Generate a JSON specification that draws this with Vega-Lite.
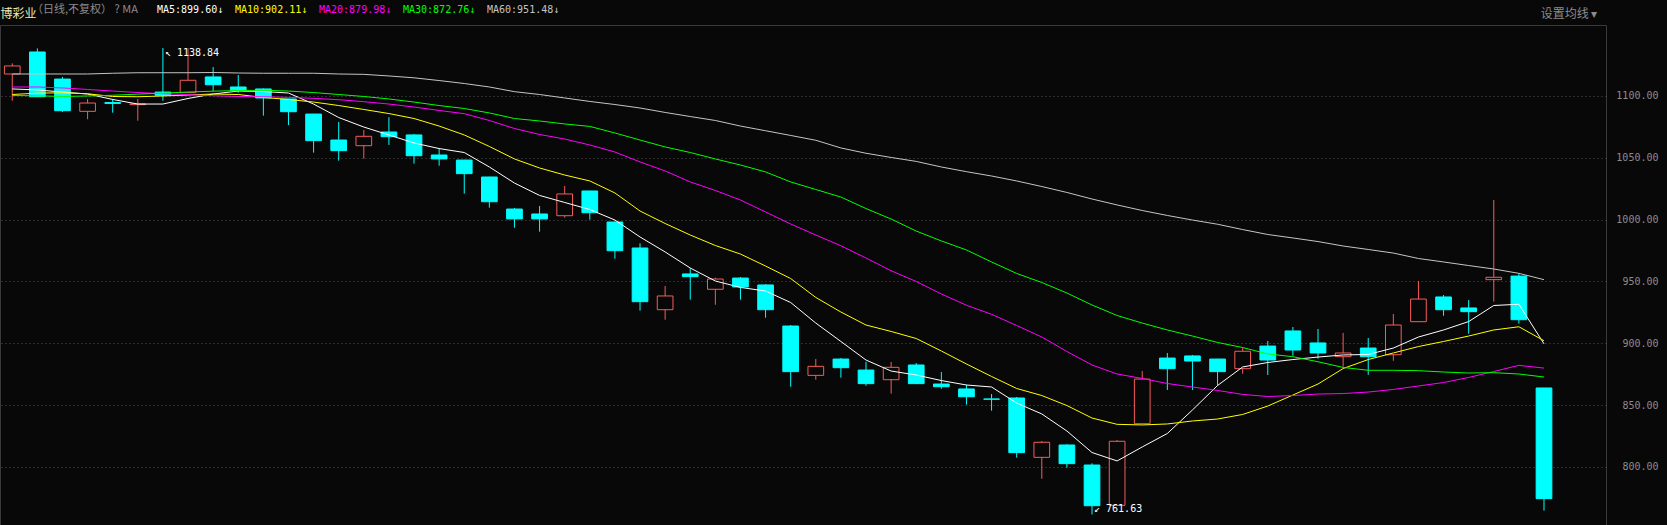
{
  "$schema": "https://vega.github.io/schema/vega-lite/v6.json",
  "width": 1606,
  "height": 500,
  "autosize": {"type": "none"},
  "padding": {"left": 0, "top": 25, "right": 61, "bottom": 0},
  "background": "#080808",
  "config": {
    "view": {"stroke": "#3a3a3a", "strokeWidth": 1},
    "axisY": {
      "labelColor": "#8c8c8c",
      "labelFont": "DejaVu Sans Mono",
      "labelFontSize": 10,
      "labelAlign": "right",
      "labelBaseline": "middle",
      "labelPadding": 52,
      "labelOverlap": false,
      "labelFlush": false,
      "ticks": false,
      "domain": false,
      "grid": true,
      "gridColor": "#505050",
      "gridDash": [1, 3],
      "gridWidth": 1,
      "titleAngle": 0,
      "titleX": -1606,
      "titleY": -12,
      "titleAlign": "left",
      "titleBaseline": "middle",
      "titleColor": "#ecebb4",
      "titleFont": "Noto Sans CJK SC",
      "titleFontSize": 12,
      "titleFontWeight": "normal"
    },
    "legend": {
      "titleColor": "#8c8c8c",
      "titleFont": "Noto Sans CJK SC",
      "titleFontSize": 11,
      "titleFontWeight": "normal",
      "labelFont": "DejaVu Sans Mono",
      "labelFontSize": 10,
      "labelColor": {"expr": "scale('color', datum.value)"}
    }
  },
  "datasets": {
    "k": [
      {"i":1,"o":1117.8,"h":1126.4,"l":1096.2,"c":1124.3,"ma5":1105.7,"ma10":1101.2,"ma20":1107.3,"ma30":1100.4,"ma60":1117.8},
      {"i":2,"o":1135.6,"h":1138.5,"l":1099.2,"c":1099.4,"ma5":1104.9,"ma10":1102.3,"ma20":1107.3,"ma30":1100.2,"ma60":1117.8},
      {"i":3,"o":1113.7,"h":1115.4,"l":1087.1,"c":1088.1,"ma5":1103.2,"ma10":1102.6,"ma20":1106.5,"ma30":1099.6,"ma60":1117.8},
      {"i":4,"o":1087.6,"h":1097.6,"l":1081.2,"c":1094.3,"ma5":1101.6,"ma10":1101.8,"ma20":1105.3,"ma30":1100.0,"ma60":1117.8},
      {"i":5,"o":1094.7,"h":1097.6,"l":1086.5,"c":1094.0,"ma5":1097.2,"ma10":1099.6,"ma20":1104.0,"ma30":1100.6,"ma60":1118.4},
      {"i":6,"o":1093.0,"h":1097.6,"l":1080.0,"c":1093.6,"ma5":1093.5,"ma10":1099.4,"ma20":1102.8,"ma30":1101.5,"ma60":1118.8},
      {"i":7,"o":1103.2,"h":1138.84,"l":1096.2,"c":1100.6,"ma5":1093.5,"ma10":1100.0,"ma20":1101.9,"ma30":1102.3,"ma60":1118.8},
      {"i":8,"o":1102.7,"h":1138.5,"l":1102.5,"c":1112.7,"ma5":1098.0,"ma10":1100.8,"ma20":1101.1,"ma30":1103.2,"ma60":1118.8},
      {"i":9,"o":1115.4,"h":1123.4,"l":1103.8,"c":1109.1,"ma5":1101.6,"ma10":1101.6,"ma20":1100.2,"ma30":1103.9,"ma60":1119.0},
      {"i":10,"o":1107.3,"h":1117.0,"l":1102.7,"c":1104.6,"ma5":1104.0,"ma10":1101.2,"ma20":1099.6,"ma30":1104.4,"ma60":1118.6},
      {"i":11,"o":1105.7,"h":1106.1,"l":1084.1,"c":1098.4,"ma5":1103.6,"ma10":1098.8,"ma20":1099.4,"ma30":1104.6,"ma60":1118.4},
      {"i":12,"o":1097.6,"h":1097.8,"l":1076.5,"c":1087.3,"ma5":1102.4,"ma10":1097.2,"ma20":1098.9,"ma30":1104.0,"ma60":1118.4},
      {"i":13,"o":1085.4,"h":1085.6,"l":1054.2,"c":1063.9,"ma5":1093.5,"ma10":1095.1,"ma20":1098.1,"ma30":1102.8,"ma60":1118.4},
      {"i":14,"o":1064.4,"h":1079.0,"l":1047.7,"c":1055.8,"ma5":1082.6,"ma10":1092.3,"ma20":1097.0,"ma30":1101.2,"ma60":1117.8},
      {"i":15,"o":1059.8,"h":1072.5,"l":1049.3,"c":1067.4,"ma5":1074.9,"ma10":1089.1,"ma20":1095.4,"ma30":1099.6,"ma60":1117.5},
      {"i":16,"o":1070.9,"h":1082.8,"l":1060.4,"c":1067.1,"ma5":1068.5,"ma10":1085.8,"ma20":1093.5,"ma30":1097.6,"ma60":1116.2},
      {"i":17,"o":1068.5,"h":1069.3,"l":1045.3,"c":1051.7,"ma5":1062.0,"ma10":1081.8,"ma20":1091.1,"ma30":1095.1,"ma60":1114.7},
      {"i":18,"o":1052.3,"h":1057.9,"l":1043.6,"c":1049.1,"ma5":1057.5,"ma10":1075.7,"ma20":1088.3,"ma30":1092.3,"ma60":1112.5},
      {"i":19,"o":1048.2,"h":1048.4,"l":1021.0,"c":1037.2,"ma5":1054.3,"ma10":1068.5,"ma20":1085.7,"ma30":1089.9,"ma60":1110.1},
      {"i":20,"o":1034.5,"h":1034.7,"l":1009.7,"c":1014.5,"ma5":1042.6,"ma10":1059.2,"ma20":1080.2,"ma30":1086.3,"ma60":1107.3},
      {"i":21,"o":1008.6,"h":1009.4,"l":993.5,"c":1000.6,"ma5":1029.6,"ma10":1049.1,"ma20":1073.7,"ma30":1081.8,"ma60":1103.5},
      {"i":22,"o":1004.6,"h":1011.1,"l":990.3,"c":1000.6,"ma5":1019.6,"ma10":1041.8,"ma20":1068.9,"ma30":1079.8,"ma60":1101.2},
      {"i":23,"o":1003.2,"h":1027.2,"l":1001.6,"c":1020.8,"ma5":1013.9,"ma10":1036.1,"ma20":1065.2,"ma30":1077.4,"ma60":1098.4},
      {"i":24,"o":1023.2,"h":1023.4,"l":1000.0,"c":1005.6,"ma5":1008.2,"ma10":1031.3,"ma20":1060.4,"ma30":1075.4,"ma60":1095.6},
      {"i":25,"o":998.1,"h":998.3,"l":968.4,"c":974.9,"ma5":999.7,"ma10":1021.6,"ma20":1054.7,"ma30":1070.1,"ma60":1093.1},
      {"i":26,"o":977.1,"h":980.9,"l":926.4,"c":933.7,"ma5":986.0,"ma10":1007.0,"ma20":1046.7,"ma30":1064.4,"ma60":1090.3},
      {"i":27,"o":927.2,"h":946.4,"l":919.1,"c":938.3,"ma5":973.9,"ma10":996.9,"ma20":1039.4,"ma30":1058.8,"ma60":1086.7},
      {"i":28,"o":956.1,"h":960.7,"l":935.3,"c":953.9,"ma5":960.9,"ma10":987.6,"ma20":1030.5,"ma30":1054.3,"ma60":1083.4},
      {"i":29,"o":943.7,"h":953.1,"l":931.2,"c":952.0,"ma5":950.4,"ma10":979.1,"ma20":1023.6,"ma30":1049.1,"ma60":1080.2},
      {"i":30,"o":952.8,"h":953.6,"l":935.3,"c":945.6,"ma5":945.2,"ma10":972.2,"ma20":1015.9,"ma30":1044.2,"ma60":1075.7},
      {"i":31,"o":947.2,"h":947.8,"l":920.7,"c":927.2,"ma5":942.3,"ma10":962.5,"ma20":1006.2,"ma30":1038.6,"ma60":1071.9},
      {"i":32,"o":914.0,"h":914.8,"l":864.9,"c":877.1,"ma5":933.0,"ma10":952.4,"ma20":996.5,"ma30":1030.5,"ma60":1068.1},
      {"i":33,"o":874.1,"h":887.3,"l":870.6,"c":881.4,"ma5":916.4,"ma10":937.1,"ma20":987.6,"ma30":1024.4,"ma60":1064.2},
      {"i":34,"o":887.3,"h":888.1,"l":872.2,"c":880.3,"ma5":901.5,"ma10":925.3,"ma20":978.9,"ma30":1018.3,"ma60":1058.0},
      {"i":35,"o":878.4,"h":885.1,"l":865.7,"c":867.4,"ma5":886.5,"ma10":914.8,"ma20":969.0,"ma30":1009.0,"ma60":1053.7},
      {"i":36,"o":870.6,"h":884.9,"l":859.3,"c":880.6,"ma5":877.6,"ma10":909.6,"ma20":958.7,"ma30":1000.5,"ma60":1050.3},
      {"i":37,"o":882.5,"h":884.1,"l":867.2,"c":867.4,"ma5":874.4,"ma10":903.9,"ma20":950.0,"ma30":990.8,"ma60":1047.1},
      {"i":38,"o":867.1,"h":876.8,"l":863.3,"c":864.9,"ma5":869.9,"ma10":893.8,"ma20":939.9,"ma30":982.8,"ma60":1042.6},
      {"i":39,"o":863.1,"h":866.6,"l":850.4,"c":856.8,"ma5":866.3,"ma10":883.3,"ma20":930.8,"ma30":975.5,"ma60":1038.8},
      {"i":40,"o":855.0,"h":859.0,"l":845.5,"c":854.8,"ma5":864.7,"ma10":873.2,"ma20":923.5,"ma30":965.8,"ma60":1035.3},
      {"i":41,"o":855.8,"h":856.6,"l":807.5,"c":811.6,"ma5":851.7,"ma10":863.5,"ma20":914.4,"ma30":956.5,"ma60":1031.3},
      {"i":42,"o":807.8,"h":821.0,"l":790.5,"c":820.0,"ma5":842.9,"ma10":857.8,"ma20":905.1,"ma30":949.2,"ma60":1026.8},
      {"i":43,"o":817.8,"h":818.4,"l":799.4,"c":802.7,"ma5":829.1,"ma10":849.7,"ma20":893.4,"ma30":940.7,"ma60":1022.0},
      {"i":44,"o":801.6,"h":803.0,"l":761.63,"c":768.7,"ma5":811.7,"ma10":839.6,"ma20":882.5,"ma30":931.0,"ma60":1016.7},
      {"i":45,"o":769.0,"h":821.8,"l":768.8,"c":820.8,"ma5":804.9,"ma10":834.5,"ma20":875.2,"ma30":922.5,"ma60":1011.9},
      {"i":46,"o":835.0,"h":877.6,"l":834.6,"c":871.1,"ma5":816.2,"ma10":834.0,"ma20":871.6,"ma30":916.4,"ma60":1007.4},
      {"i":47,"o":888.1,"h":892.2,"l":862.3,"c":879.5,"ma5":827.1,"ma10":834.8,"ma20":867.5,"ma30":910.8,"ma60":1003.4},
      {"i":48,"o":889.8,"h":890.6,"l":862.3,"c":885.7,"ma5":846.1,"ma10":837.2,"ma20":864.7,"ma30":905.9,"ma60":999.7},
      {"i":49,"o":887.3,"h":887.5,"l":865.7,"c":877.1,"ma5":865.9,"ma10":838.8,"ma20":861.9,"ma30":900.7,"ma60":996.3},
      {"i":50,"o":879.5,"h":896.5,"l":875.4,"c":893.6,"ma5":880.9,"ma10":842.5,"ma20":858.7,"ma30":896.6,"ma60":992.0},
      {"i":51,"o":897.8,"h":901.9,"l":874.4,"c":886.5,"ma5":884.5,"ma10":849.3,"ma20":857.0,"ma30":891.4,"ma60":988.0},
      {"i":52,"o":910.0,"h":913.2,"l":890.0,"c":894.6,"ma5":886.9,"ma10":858.2,"ma20":857.8,"ma30":889.2,"ma60":985.2},
      {"i":53,"o":900.3,"h":911.6,"l":887.6,"c":892.2,"ma5":888.9,"ma10":867.1,"ma20":859.0,"ma30":885.1,"ma60":982.3},
      {"i":54,"o":889.2,"h":908.4,"l":881.1,"c":892.2,"ma5":890.6,"ma10":879.6,"ma20":859.4,"ma30":880.5,"ma60":978.7},
      {"i":55,"o":896.2,"h":904.3,"l":874.6,"c":889.2,"ma5":891.0,"ma10":886.9,"ma20":860.6,"ma30":878.2,"ma60":975.9},
      {"i":56,"o":890.8,"h":923.7,"l":885.9,"c":914.8,"ma5":896.2,"ma10":892.2,"ma20":862.7,"ma30":878.2,"ma60":973.0},
      {"i":57,"o":917.5,"h":950.4,"l":917.3,"c":935.8,"ma5":905.1,"ma10":897.4,"ma20":865.5,"ma30":877.9,"ma60":968.6},
      {"i":58,"o":937.5,"h":939.1,"l":922.3,"c":927.2,"ma5":910.8,"ma10":901.5,"ma20":868.3,"ma30":876.8,"ma60":965.8},
      {"i":59,"o":928.6,"h":935.0,"l":907.8,"c":925.6,"ma5":917.6,"ma10":905.9,"ma20":872.4,"ma30":876.0,"ma60":962.9},
      {"i":60,"o":951.5,"h":1015.9,"l":933.7,"c":953.4,"ma5":930.6,"ma10":910.8,"ma20":877.2,"ma30":876.3,"ma60":960.1},
      {"i":61,"o":954.4,"h":956.6,"l":915.9,"c":919.1,"ma5":931.6,"ma10":913.4,"ma20":882.2,"ma30":875.2,"ma60":956.6},
      {"i":62,"o":863.9,"h":864.1,"l":764.7,"c":774.4,"ma5":899.6,"ma10":902.11,"ma20":879.98,"ma30":872.76,"ma60":951.48}
    ]
  },
  "data": {"name": "k"},
  "encoding": {
    "x": {
      "field": "i",
      "type": "quantitative",
      "scale": {"domain": [0.711, 64.27], "nice": false, "zero": false},
      "axis": {
        "orient": "top",
        "labels": false,
        "ticks": false,
        "domain": false,
        "grid": false,
        "title": "设置均线 ▾",
        "titleX": 1597,
        "titleY": -12,
        "titleAlign": "right",
        "titleBaseline": "middle",
        "titleColor": "#8c8c8c",
        "titleFont": "Noto Sans CJK SC",
        "titleFontSize": 12,
        "titleFontWeight": "normal"
      }
    }
  },
  "layer": [
    {
      "mark": {"type": "rule", "strokeWidth": 1},
      "encoding": {
        "y": {
          "field": "l",
          "type": "quantitative",
          "title": "博彩业",
          "scale": {"domain": [753.1, 1157.41], "nice": false, "zero": false},
          "axis": {"orient": "right", "values": [800, 850, 900, 950, 1000, 1050, 1100], "format": ".2f"}
        },
        "y2": {"field": "h"},
        "stroke": {"condition": {"test": "datum.c >= datum.o", "value": "#f65c5c"}, "value": "#00ffff"}
      }
    },
    {
      "mark": {"type": "bar", "size": 15.7, "strokeWidth": 1},
      "encoding": {
        "y": {
          "field": "o",
          "type": "quantitative",
          "title": "博彩业",
          "scale": {"domain": [753.1, 1157.41], "nice": false, "zero": false},
          "axis": {"orient": "right", "values": [800, 850, 900, 950, 1000, 1050, 1100], "format": ".2f"}
        },
        "y2": {"field": "c"},
        "fill": {"condition": {"test": "datum.c >= datum.o", "value": "#080808"}, "value": "#00ffff"},
        "stroke": {"condition": {"test": "datum.c >= datum.o", "value": "#f65c5c"}, "value": "#00ffff"}
      }
    },
    {
      "transform": [{"fold": ["ma5", "ma10", "ma20", "ma30", "ma60"], "as": ["ma", "v"]}],
      "mark": {"type": "line", "strokeWidth": 1},
      "encoding": {
        "y": {
          "field": "v",
          "type": "quantitative",
          "title": "博彩业",
          "scale": {"domain": [753.1, 1157.41], "nice": false, "zero": false},
          "axis": {"orient": "right", "values": [800, 850, 900, 950, 1000, 1050, 1100], "format": ".2f"}
        },
        "color": {
          "field": "ma",
          "type": "nominal",
          "scale": {
            "domain": ["ma5", "ma10", "ma20", "ma30", "ma60"],
            "range": ["#ffffff", "#ffff00", "#ff00ff", "#00ff00", "#c4c4c4"]
          },
          "legend": {
            "orient": "none",
            "legendX": 32,
            "legendY": -20,
            "direction": "horizontal",
            "columns": 5,
            "gridAlign": "none",
            "columnPadding": 1,
            "title": "（日线,不复权） ?  MA",
            "titleOrient": "left",
            "titlePadding": 6,
            "labelOffset": 0,
            "symbolSize": 0.01,
            "symbolOpacity": 0,
            "symbolStrokeWidth": 0,
            "padding": 0,
            "labelExpr": "{'ma5': 'MA5:899.60↓', 'ma10': 'MA10:902.11↓', 'ma20': 'MA20:879.98↓', 'ma30': 'MA30:872.76↓', 'ma60': 'MA60:951.48↓'}[datum.label]"
          }
        }
      }
    },
    {
      "data": {"values": [{"i": 7, "v": 1138.84, "t": "↖ 1138.84"}]},
      "mark": {"type": "text", "align": "left", "baseline": "top", "dx": 2, "dy": 0, "font": "DejaVu Sans Mono", "fontSize": 10, "color": "#ffffff"},
      "encoding": {
        "y": {
          "field": "v",
          "type": "quantitative",
          "title": "博彩业",
          "scale": {"domain": [753.1, 1157.41], "nice": false, "zero": false},
          "axis": {"orient": "right", "values": [800, 850, 900, 950, 1000, 1050, 1100], "format": ".2f"}
        },
        "text": {"field": "t"}
      }
    },
    {
      "data": {"values": [{"i": 44, "v": 761.63, "t": "↙ 761.63"}]},
      "mark": {"type": "text", "align": "left", "baseline": "bottom", "dx": 2, "dy": 0, "font": "DejaVu Sans Mono", "fontSize": 10, "color": "#ffffff"},
      "encoding": {
        "y": {
          "field": "v",
          "type": "quantitative",
          "title": "博彩业",
          "scale": {"domain": [753.1, 1157.41], "nice": false, "zero": false},
          "axis": {"orient": "right", "values": [800, 850, 900, 950, 1000, 1050, 1100], "format": ".2f"}
        },
        "text": {"field": "t"}
      }
    }
  ]
}
